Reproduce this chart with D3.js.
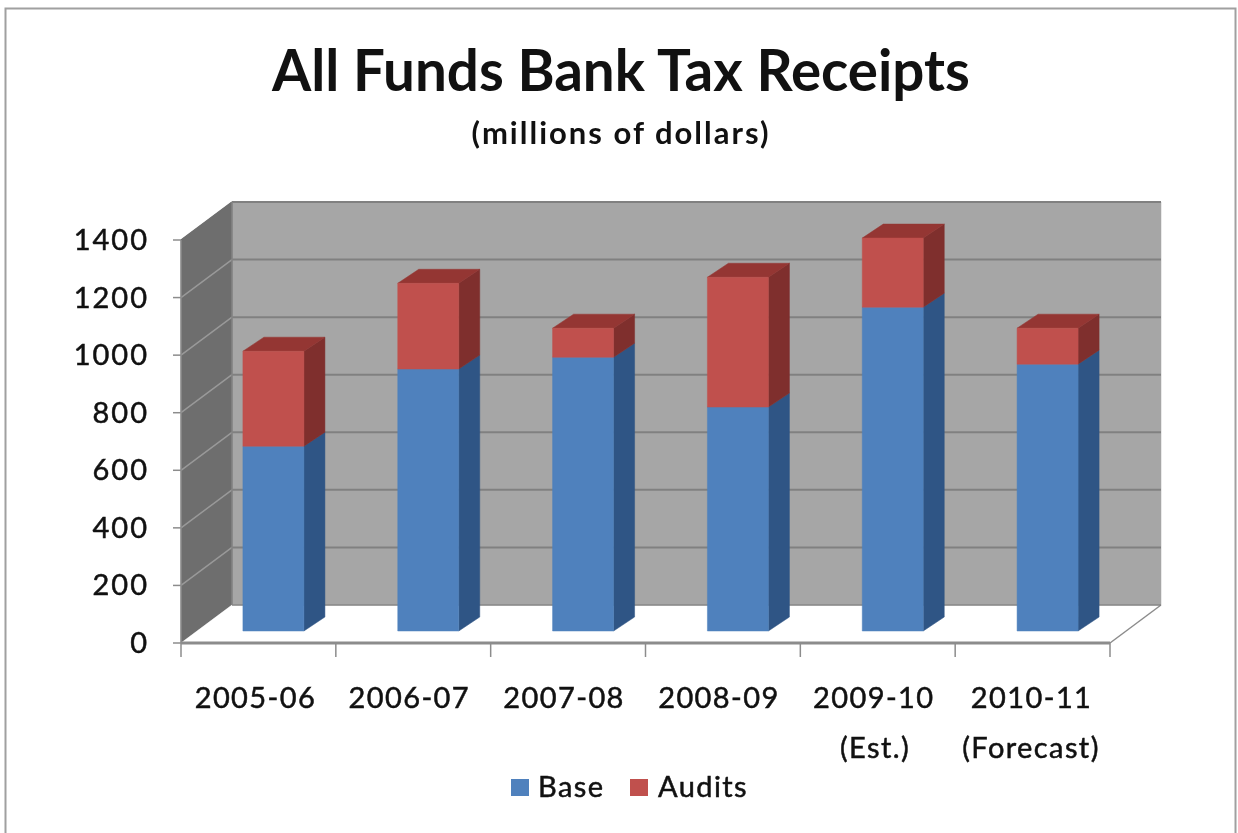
<!DOCTYPE html>
<html><head><meta charset="utf-8">
<script src="https://cdn.jsdelivr.net/npm/d3@7"></script>
<style>html,body{margin:0;padding:0;background:#fff}svg{display:block;filter:blur(0.6px)}text{font-family:Lato,"Open Sans",sans-serif;fill:#111}</style>
</head><body><svg id="c" width="1238" height="833"></svg>
<script>
const categories=["2005-06","2006-07","2007-08","2008-09","2009-10","2010-11"];
const subLabels=["","","","","(Est.)","(Forecast)"];
const base=[642,910,951,778,1125,927];
const audits=[330,298,101,451,240,125];
const yTicks=[0,200,400,600,800,1000,1200,1400];
const seriesNames=["Base","Audits"];
const svg=d3.select("#c");
const colors={Base:{front:"#4f81bd",side:"#2f5585"},Audits:{front:"#c0504d",side:"#7f2f2d",top:"#943633"}};
const x=d3.scaleBand().domain(categories).range([181,1110]);
const y=d3.scaleLinear().domain([0,1400]).range([643,240]);
const W=51,D=38; // wall depth
const line=d3.line();
const L=(pts,fill,stroke)=>svg.append("path").attr("d",line(pts)+"Z").attr("fill",fill).attr("stroke",stroke||fill).attr("stroke-width",stroke?1:0.5);
const label=(sel)=>sel.attr("font-size",29).attr("font-weight",700).attr("letter-spacing",1.4);

// frame
svg.append("rect").attr("x",5.5).attr("y",8.5).attr("width",1230).attr("height",840).attr("fill","#fff").attr("stroke","#a0a0a0").attr("stroke-width",2);

const g0=y(0),g1=y(1400),xl=x.range()[0],xr=x.range()[1];
// walls
L([[xl+W,g1-D],[xr+W,g1-D],[xr+W,g0-D],[xl+W,g0-D]],"#a6a6a6");
L([[xl,g1],[xl+W,g1-D],[xl+W,g0-D],[xl,g0]],"#6e6e6e");
L([[xl,g0],[xl+W,g0-D],[xr+W,g0-D],[xr,g0]],"#fff");
// floor outline
svg.append("path").attr("d",line([[xr,g0],[xr+W,g0-D]])).attr("stroke","#8c8c8c").attr("stroke-width",1.5).attr("fill","none");
// gridlines
yTicks.forEach(t=>{
  if(t>0) svg.append("path").attr("d",line([[xl,y(t)],[xl+W,y(t)-D]])).attr("stroke",t==1400?"#6e6e6e":"#999").attr("stroke-width",1.5).attr("fill","none");
  svg.append("path").attr("d",line([[xl+W,y(t)-D],[xr+W,y(t)-D]])).attr("stroke","#808080").attr("stroke-width",t==0?1.5:2).attr("fill","none");
});
svg.append("path").attr("d",line([[xl+W,g1-D],[xl+W,g0-D]])).attr("stroke","#858585").attr("stroke-width",1.5);

// bars
const bw=61,sx=21,sy=14,ox=16,oy=12;
categories.forEach((c,i)=>{
  const x0=x(c)+x.bandwidth()/2+ox-bw/2-1,x1=x0+bw;
  const yv=v=>y(v)-oy;
  const b0=yv(0),b1=yv(base[i]),b2=yv(base[i]+audits[i]);
  L([[x1,b0],[x1+sx,b0-sy],[x1+sx,b1-sy],[x1,b1]],colors.Base.side);
  L([[x1,b1],[x1+sx,b1-sy],[x1+sx,b2-sy],[x1,b2]],colors.Audits.side);
  L([[x0,b2],[x0+sx,b2-sy],[x1+sx,b2-sy],[x1,b2]],colors.Audits.top);
  L([[x0,b0],[x1,b0],[x1,b1],[x0,b1]],colors.Base.front);
  L([[x0,b1],[x1,b1],[x1,b2],[x0,b2]],colors.Audits.front);
});

// axes
const axC="#8c8c8c";
svg.append("path").attr("d",line([[xl,g0],[xr,g0]])).attr("stroke",axC).attr("stroke-width",3).attr("fill","none");
svg.append("path").attr("d",line([[xl,g1],[xl,g0]])).attr("stroke",axC).attr("stroke-width",1.5).attr("fill","none");
yTicks.forEach(t=>{
  svg.append("path").attr("d",line([[xl-8,y(t)],[xl,y(t)]])).attr("stroke",axC).attr("stroke-width",1.5);
  label(svg.append("text")).attr("text-anchor","end").attr("x",149).attr("y",y(t)+10).attr("letter-spacing",2).attr("font-weight",400).attr("stroke","#111").attr("stroke-width",0.5).text(t);
});
[...categories.map(c=>x(c)),xr].forEach(px=>{
  svg.append("path").attr("d",line([[px,g0],[px,g0+14]])).attr("stroke",axC).attr("stroke-width",1.5);
});
categories.forEach((c,i)=>{
  const cx=x(c)+x.bandwidth()/2-4+(i==5?3:0)-(i==0?-1:0);
  label(svg.append("text")).attr("x",cx).attr("y",708).attr("text-anchor","middle").attr("font-weight",400).attr("stroke","#111").attr("stroke-width",0.5).text(c);
  if(subLabels[i]) label(svg.append("text")).attr("x",i==5?1031:875).attr("y",758).attr("text-anchor","middle").attr("font-weight",400).attr("stroke","#111").attr("stroke-width",0.5).text(subLabels[i]);
});

// titles
svg.append("text").attr("x",621).attr("y",91).attr("text-anchor","middle").attr("font-size",56.5).attr("font-weight",700).text("All Funds Bank Tax Receipts");
svg.append("text").attr("x",621).attr("y",144).attr("text-anchor","middle").attr("font-size",31).attr("font-weight",700).attr("letter-spacing",2).text("(millions of dollars)");

// legend
const lx=[511,630],tx=[538,658];
seriesNames.forEach((s,i)=>{
  svg.append("rect").attr("x",lx[i]).attr("y",779).attr("width",18).attr("height",17).attr("fill",colors[s].front);
  label(svg.append("text")).attr("x",tx[i]).attr("y",797).attr("font-weight",400).attr("stroke","#111").attr("stroke-width",0.5).text(s);
});
</script></body></html>
